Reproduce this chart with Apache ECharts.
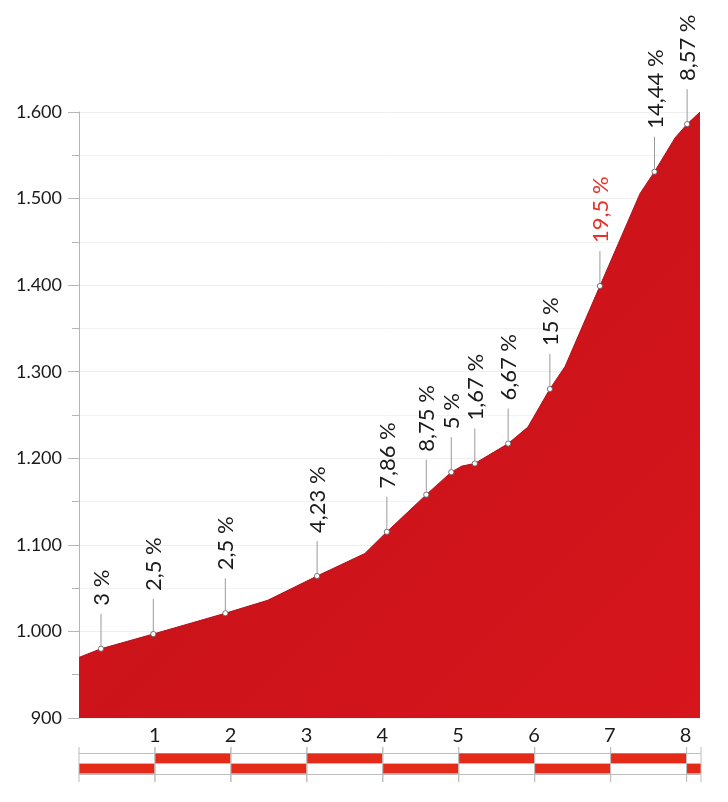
<!DOCTYPE html>
<html>
<head>
<meta charset="utf-8">
<script src="https://cdn.jsdelivr.net/npm/echarts@6/dist/echarts.min.js"></script>
<style>
  html, body {margin:0; padding:0; background:#fff;}
  #main {width:728px; height:802px;}
</style>
</head>
<body>
<div id="main"></div>
<script>
// perfil: km / altitud (m)
var profileKm  = [0, 0.29, 0.98, 1.93, 2.49, 3.14, 3.77, 4.06, 4.58, 4.91, 5.05, 5.22, 5.66, 5.92, 6.21, 6.41, 6.87, 7.40, 7.59, 7.86, 8.02, 8.19];
var profileAlt = [970, 980, 997, 1021, 1036, 1064, 1090, 1115, 1158, 1184, 1191, 1194, 1217, 1236, 1280, 1306, 1399, 1506, 1531, 1570, 1586, 1600];

// puntos con pendiente
var markKm  = [0.29, 0.98, 1.93, 3.14, 4.06, 4.58, 4.91, 5.22, 5.66, 6.21, 6.87, 7.59, 8.02];
var markAlt = [980, 997, 1021, 1064, 1115, 1158, 1184, 1194, 1217, 1280, 1399, 1531, 1586];
var markText = ['3 %', '2,5 %', '2,5 %', '4,23 %', '7,86 %', '8,75 %', '5 %', '1,67 %', '6,67 %', '15 %', '19,5 %', '14,44 %', '8,57 %'];
var markRed = [false, false, false, false, false, false, false, false, false, false, true, false, false];

// barra de kilometros
var segStart = [0, 1, 2, 3, 4, 5, 6, 7, 8];
var segEnd   = [1, 2, 3, 4, 5, 6, 7, 8, 8.19];
var segRow   = [0, 1, 0, 1, 0, 1, 0, 1, 0];   // 0 = abajo, 1 = arriba

var kmMax = 8.19;
var FONT = 'Lato, "Open Sans", sans-serif';

var chart = echarts.init(document.getElementById('main'));

var lineData = [];
for (var i = 0; i < profileKm.length; i++) {
    lineData.push([profileKm[i], profileAlt[i]]);
}
var markData = [];
for (var i = 0; i < markKm.length; i++) {
    markData.push([markKm[i], markAlt[i], i]);
}
var segData = [];
for (var i = 0; i < segStart.length; i++) {
    segData.push([segStart[i], segEnd[i], segRow[i]]);
}

function renderMark(params, api) {
    var p = api.coord([api.value(0), api.value(1)]);
    var idx = api.value(2);
    return {
        type: 'group',
        children: [
            {type: 'line', shape: {x1: p[0], y1: p[1] - 3, x2: p[0], y2: p[1] - 35},
             style: {stroke: '#9a9a9a', lineWidth: 1}},
            {type: 'circle', shape: {cx: p[0], cy: p[1], r: 2.6},
             style: {fill: '#fff', stroke: '#555', lineWidth: 0.8}},
            {type: 'text', x: p[0] + 1, y: p[1] - 43, rotation: Math.PI / 2,
             style: {text: markText[idx], fill: markRed[idx] ? '#e8302a' : '#1a1a1a',
                     font: '22px ' + FONT, align: 'left', verticalAlign: 'middle'}}
        ]
    };
}

function renderSeg(params, api) {
    var a = api.coord([api.value(0), api.value(2) + 1]);
    var b = api.coord([api.value(1), api.value(2)]);
    var top = api.coord([0, 2])[1];
    var bot = api.coord([0, 0])[1];
    return {
        type: 'group',
        children: [
            {type: 'rect', shape: {x: a[0], y: a[1] + 0.5, width: b[0] - a[0], height: b[1] - a[1] - 1},
             style: {fill: '#e42a18'}},
            {type: 'line', shape: {x1: a[0], y1: top - 6, x2: a[0], y2: bot + 8},
             style: {stroke: '#bdbdbd', lineWidth: 1}},
            {type: 'line', shape: {x1: b[0], y1: top - 6, x2: b[0], y2: bot + 8},
             style: {stroke: '#bdbdbd', lineWidth: 1}}
        ]
    };
}

var option = {
    backgroundColor: '#fff',
    animation: false,
    grid: [
        {left: 79, right: 28, top: 112, bottom: 84},
        {left: 79, right: 27, top: 753, height: 21}
    ],
    xAxis: [{
        type: 'value', gridIndex: 0, min: 0, max: kmMax, interval: 1,
        axisLine: {show: false}, axisTick: {show: false}, splitLine: {show: false},
        axisLabel: {
            margin: 8, fontSize: 20, color: '#1a1a1a', fontFamily: FONT,
            showMaxLabel: false,
            formatter: function (v) { return (v > 0 && Math.round(v) === v) ? String(v) : ''; }
        }
    }, {
        type: 'value', gridIndex: 1, min: 0, max: kmMax,
        axisLine: {show: false}, axisTick: {show: false}, axisLabel: {show: false}, splitLine: {show: false}
    }],
    yAxis: [{
        type: 'value', gridIndex: 0, min: 900, max: 1600, interval: 100,
        axisLine: {show: true, lineStyle: {color: '#b5b5b5', width: 1}},
        axisTick: {show: true, length: 11, lineStyle: {color: '#b5b5b5'}},
        minorTick: {show: true, splitNumber: 2, length: 7, lineStyle: {color: '#b5b5b5'}},
        splitLine: {show: true, lineStyle: {color: '#efefef'}},
        minorSplitLine: {show: true, lineStyle: {color: '#f2f2f2'}},
        axisLabel: {
            margin: 17, fontSize: 18, color: '#1a1a1a', fontFamily: FONT,
            formatter: function (v) { return v >= 1000 ? Math.floor(v / 1000) + '.' + String(v % 1000).padStart(3, '0') : String(v); }
        }
    }, {
        type: 'value', gridIndex: 1, min: 0, max: 2, interval: 1,
        axisLine: {show: false}, axisTick: {show: false}, axisLabel: {show: false},
        splitLine: {show: true, lineStyle: {color: '#bdbdbd', width: 1}}
    }],
    series: [{
        type: 'line', xAxisIndex: 0, yAxisIndex: 0,
        data: lineData, symbol: 'none', smooth: false,
        lineStyle: {color: '#b0101a', width: 1},
        areaStyle: {
            opacity: 1,
            color: new echarts.graphic.LinearGradient(0, 0, 1, 1, [
                {offset: 0, color: '#d8141c'},
                {offset: 0.5, color: '#cd131a'},
                {offset: 1, color: '#d6151c'}
            ])
        },
        z: 2
    }, {
        type: 'custom', xAxisIndex: 0, yAxisIndex: 0,
        data: markData, renderItem: renderMark, clip: false, z: 5
    }, {
        type: 'custom', xAxisIndex: 1, yAxisIndex: 1,
        data: segData, renderItem: renderSeg, clip: false, z: 3
    }]
};

chart.setOption(option);
</script>
</body>
</html>
